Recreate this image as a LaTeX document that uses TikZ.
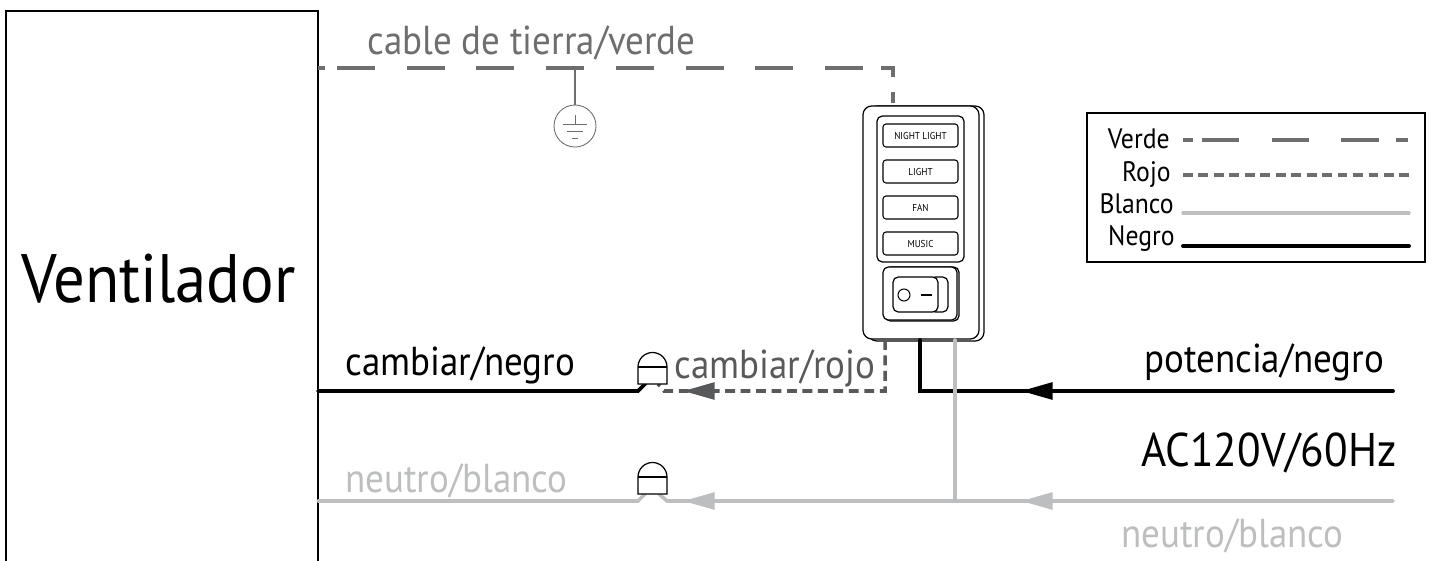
\documentclass[tikz,border=0pt]{standalone}
\usepackage{fontspec}
\setmainfont[FakeStretch=0.915]{PT Sans}
\usetikzlibrary{arrows.meta}
\definecolor{verdegray}{HTML}{6D6E70}
\definecolor{rojogray}{HTML}{58595B}
\definecolor{blancogray}{HTML}{BCBEC0}
\tikzset{
    negrowire/.style={line width=2.2pt,color=black,line cap=round},
    blancowire/.style={line width=2pt,color=blancogray,line cap=round},
    rojowire/.style={line width=2pt,color=rojogray,dash pattern=on 5.6pt off 3.2pt},
    verdewire/.style={line width=2pt,color=verdegray},
    wirearrow/.style={-{Triangle[length=18pt,width=9.5pt]}},
    btn/.style={draw,line width=0.6pt,rounded corners=1.7pt,inner sep=0pt,minimum width=1.5cm,minimum height=0.46cm,font=\fontsize{5.7}{6}\selectfont},
    lbl/.style={inner sep=0pt,anchor=base west,font=\fontsize{23}{26}\selectfont},
    legendlbl/.style={inner sep=0pt,anchor=base east,font=\fontsize{16}{18}\selectfont},
    nut/.pic={
        \draw[line width=0.7pt,fill=white] (-14.5,0) -- (-14.5,-17) arc (180:360:14.5) -- (14.5,0) -- cycle;
        \draw[line width=0.7pt] (-14.5,-17) -- (14.5,-17);
    }
}
\begin{document}
\begin{tikzpicture}[x=0.02cm,y=-0.02cm]
    \useasboundingbox (0,0) rectangle (1438,561);
    % fan box
    \coordinate (fanTL) at (6,11);
    \coordinate (fanTR) at (318,11);
    \draw[line width=0.7pt] (6,561) -- (fanTL) -- (fanTR) -- (318,561);
    \node[inner sep=0pt,anchor=base west,font=\fontsize{39}{44}\selectfont] (fan) at (21,302) {Ventilador};

    % ground wire
    \coordinate (grA) at (318,68);
    \coordinate (grB) at (893,68);
    \coordinate (grC) at (893,105);
    \coordinate (grT) at (575,68);
    \draw[verdewire,dash pattern=on 4pt off 6.8pt on 21.5pt off 18.2pt on 21.5pt off 18.2pt on 21.5pt off 18.2pt on 21.5pt off 18.2pt on 21.5pt off 18.2pt on 21.5pt off 18.2pt on 21.5pt off 18.2pt on 21.5pt off 10.2pt on 11.9pt off 8.5pt on 6.5pt off 20pt] (grA) -- (grB) -- (grC);
    \node[draw=verdegray,circle,line width=0.5pt,minimum size=0.84cm,inner sep=0pt] (ground) at (575,126) {};
    \draw[verdegray,line width=0.6pt] (grT) -- (ground);
    \draw[verdegray,line width=0.5pt] (575,115) -- (575,124) (563,124) -- (587,124) (567,131) -- (583,131) (572,138) -- (578,138);
    \node[lbl,text=verdegray] (grlabel) at (367,54) {cable de tierra/verde};

    % wall control
    \draw[line width=0.7pt,rounded corners=5pt] (868,106) rectangle (984,341);
    \draw[line width=0.7pt,rounded corners=5pt,fill=white] (863,106) rectangle (979,339);
    \draw[line width=0.7pt,rounded corners=3pt] (877,116) rectangle (964,262);
    \foreach \nm/\txt/\ypos in {night/NIGHT LIGHT/135.5, light/LIGHT/171.5, fanbtn/FAN/207.5, music/MUSIC/243.5}
        \node[btn] (\nm) at (920.5,\ypos) {\txt};
    \draw[line width=0.7pt,rounded corners=3pt] (885,267) rectangle (959,321);
    \draw[line width=0.7pt,rounded corners=3pt,fill=white] (883,267) rectangle (957,320);
    \draw[line width=0.7pt,rounded corners=3pt] (930,277) rectangle (948,312);
    \draw[line width=0.7pt,rounded corners=3pt,fill=white] (893,277) rectangle (938,312);
    \node[draw,circle,line width=0.6pt,minimum size=0.24cm,inner sep=0pt] (rockO) at (904,295) {};
    \coordinate (rockA) at (921,295);
    \coordinate (rockB) at (932,295);
    \draw[line width=0.7pt] (rockA) -- (rockB);

    % black wires
    \coordinate (negA) at (318,391);
    \coordinate (negB) at (638,391);
    \coordinate (negC) at (646,383);
    \draw[negrowire] (negA) -- (negB) -- (negC);
    \coordinate (potA) at (920,340);
    \coordinate (potB) at (920,391);
    \coordinate (potC) at (1393,391);
    \coordinate (potM) at (1051,391);
    \coordinate (potT) at (1021,391);
    \draw[negrowire] (potA) -- (potB) -- (potC);
    \draw[negrowire,wirearrow] (potM) -- (potT);

    % red wire
    \coordinate (rojA) at (885,340);
    \coordinate (rojB) at (885,391);
    \coordinate (rojC) at (664,391);
    \coordinate (rojD) at (658,384);
    \coordinate (rojM) at (713,391);
    \coordinate (rojT) at (683,391);
    \draw[rojowire] (rojA) -- (rojB) -- (rojC) -- (rojD);
    \draw[rojowire,solid,wirearrow] (rojM) -- (rojT);

    % white wires
    \coordinate (blaA) at (318,501);
    \coordinate (blaB) at (638,501);
    \coordinate (blaC) at (645,494);
    \coordinate (blaD) at (659,494);
    \coordinate (blaE) at (667,501);
    \coordinate (blaF) at (1393,501);
    \coordinate (blaG) at (955,340);
    \coordinate (blaH) at (955,501);
    \draw[blancowire] (blaA) -- (blaB) -- (blaC) (blaD) -- (blaE) -- (blaF);
    \draw[blancowire] (blaG) -- (blaH);
    \coordinate (blaM) at (713,501);
    \coordinate (blaT) at (683,501);
    \coordinate (blaN) at (1051,501);
    \coordinate (blaU) at (1021,501);
    \draw[blancowire,wirearrow] (blaM) -- (blaT);
    \draw[blancowire,wirearrow] (blaN) -- (blaU);

    % wire nuts
    \pic at (652.5,384) {nut};
    \pic at (652.5,494) {nut};

    % labels
    \node[lbl] (negroL) at (345,375) {cambiar/negro};
    \node[lbl,text=rojogray] (rojoL) at (674,378) {cambiar/rojo};
    \node[lbl] (potL) at (1144,372) {potencia/negro};
    \node[lbl,font=\fontsize{26.9}{30}\selectfont] (acL) at (1141,466) {AC120V/60Hz};
    \node[lbl,text=blancogray] (blancoL) at (345,492) {neutro/blanco};
    \node[lbl,text=blancogray] (blancoR) at (1121,547) {neutro/blanco};

    % legend
    \node[draw,line width=0.8pt,minimum width=6.76cm,minimum height=2.98cm,inner sep=0pt] (legend) at (1256,187.5) {};
    \node[legendlbl] (lgV) at (1170,148) {Verde};
    \node[legendlbl] (lgR) at (1171,181) {Rojo};
    \node[legendlbl] (lgB) at (1174,213) {Blanco};
    \node[legendlbl] (lgN) at (1175,245) {Negro};
    \coordinate (lgVa) at (1183,140);
    \coordinate (lgVb) at (1409,140);
    \coordinate (lgRa) at (1183,175);
    \coordinate (lgRb) at (1409,175);
    \coordinate (lgBa) at (1183,213);
    \coordinate (lgBb) at (1409,213);
    \coordinate (lgNa) at (1183,246);
    \coordinate (lgNb) at (1409,246);
    \draw[verdewire,dash pattern=on 5.7pt off 5.1pt on 21pt off 18.7pt on 21pt off 18.7pt on 21.5pt off 9.6pt on 6.8pt off 20pt] (lgVa) -- (lgVb);
    \draw[rojowire,color=verdegray] (lgRa) -- (lgRb);
    \draw[blancowire] (lgBa) -- (lgBb);
    \draw[negrowire] (lgNa) -- (lgNb);
\end{tikzpicture}
\end{document}
